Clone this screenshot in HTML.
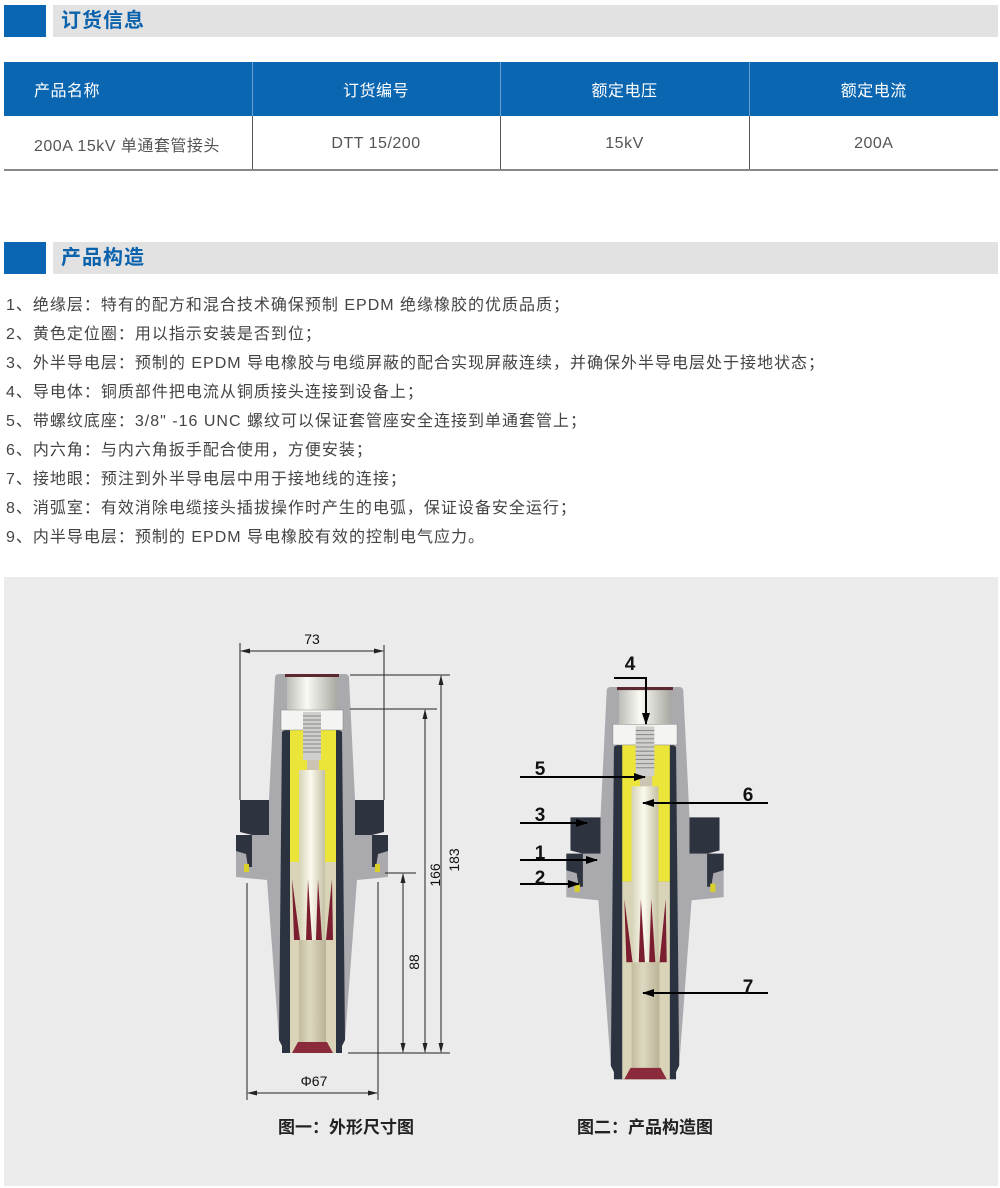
<!DOCTYPE html>
<html><head><meta charset="utf-8"><style>
*{margin:0;padding:0;box-sizing:border-box}
body{width:1000px;height:1188px;background:#fff;position:relative;font-family:"Liberation Sans","Noto Sans CJK SC",sans-serif;overflow:hidden}
.sq{position:absolute;left:4px;width:42px;height:32px;background:#0a66b2}
.bar{position:absolute;left:53px;width:945px;height:32px;background:#e2e2e2;color:#0a62ac;font-size:20px;font-weight:bold;line-height:32px;padding-left:8px;letter-spacing:1px}
table{position:absolute;left:4px;top:62px;width:994px;border-collapse:collapse;table-layout:fixed}
th{background:#0a66b0;color:#fff;font-weight:normal;font-size:16px;height:54px;border-left:1px solid #6a9fd0;letter-spacing:.5px}
td{height:54px;font-size:16px;color:#555;text-align:center;border-left:1px solid #555;border-bottom:2px solid #888;letter-spacing:.5px;padding-top:2px}
th:first-child,td:first-child{border-left:none}
.lines{position:absolute;left:6px;top:291px;font-size:16px;color:#444;line-height:29px;letter-spacing:1px;white-space:nowrap}
.panel{position:absolute;left:4px;top:577px;width:994px;height:609px;background:#ebebeb}
</style></head><body>
<div class="sq" style="top:5px"></div><div class="bar" style="top:5px">订货信息</div>
<table><colgroup><col style="width:248px"><col style="width:248px"><col style="width:249px"><col style="width:249px"></colgroup>
<tr><th style="text-align:left;padding-left:30px">产品名称</th><th>订货编号</th><th>额定电压</th><th>额定电流</th></tr>
<tr><td style="text-align:left;padding-left:30px">200A 15kV 单通套管接头</td><td>DTT 15/200</td><td>15kV</td><td>200A</td></tr></table>
<div class="sq" style="top:242px"></div><div class="bar" style="top:242px">产品构造</div>
<div class="lines">
1、绝缘层：特有的配方和混合技术确保预制 EPDM 绝缘橡胶的优质品质；<br>
2、黄色定位圈：用以指示安装是否到位；<br>
3、外半导电层：预制的 EPDM 导电橡胶与电缆屏蔽的配合实现屏蔽连续，并确保外半导电层处于接地状态；<br>
4、导电体：铜质部件把电流从铜质接头连接到设备上；<br>
5、带螺纹底座：3/8" -16 UNC 螺纹可以保证套管座安全连接到单通套管上；<br>
6、内六角：与内六角扳手配合使用，方便安装；<br>
7、接地眼：预注到外半导电层中用于接地线的连接；<br>
8、消弧室：有效消除电缆接头插拔操作时产生的电弧，保证设备安全运行；<br>
9、内半导电层：预制的 EPDM 导电橡胶有效的控制电气应力。
</div>
<div class="panel"></div>
<svg width="1000" height="1188" style="position:absolute;left:0;top:0">
<defs>
<linearGradient id="cyl" x1="0" x2="1"><stop offset="0" stop-color="#bdbdb8"/><stop offset=".4" stop-color="#fafaf5"/><stop offset="1" stop-color="#a9a9a2"/></linearGradient>
<linearGradient id="rod" x1="0" x2="1"><stop offset="0" stop-color="#d6d2b6"/><stop offset=".45" stop-color="#fbfaee"/><stop offset="1" stop-color="#c4c0a2"/></linearGradient>
<linearGradient id="tube" x1="0" x2="1"><stop offset="0" stop-color="#c2bb9c"/><stop offset=".4" stop-color="#ddd8c0"/><stop offset="1" stop-color="#b9b296"/></linearGradient>
<g id="body">
<path d="M-37,4 Q-37,0 -33,0 L33,0 Q37,0 37,4 L43,126 L43,161 L76,161 L76,203 L45,206 L33,366 L30,372 L30,379 L-30,379 L-30,372 L-33,366 L-45,206 L-76,203 L-76,161 L-43,161 L-43,126 Z" fill="#a9a9ae"/>
<path d="M43,126 L72,126 L72,158 L60,161 L43,161 Z M-43,126 L-72,126 L-72,158 L-60,161 L-43,161 Z" fill="#2e3340"/>
<path d="M60,161 L76,161 L76,177 L66,180 L64,193 L60,193 Z M-60,161 L-76,161 L-76,177 L-66,180 L-64,193 L-60,193 Z" fill="#2e3340"/>
<rect x="63" y="190" width="5" height="8" fill="#d8cf2a"/><rect x="-68" y="190" width="5" height="8" fill="#d8cf2a"/>
<path d="M-30,58 L-22,52 L22,52 L30,58 L33,366 L30,372 L30,379 L-30,379 L-30,372 L-33,366 Z" fill="#2c3340"/>
<rect x="-22" y="56" width="46" height="132" fill="#ebe53a"/>
<rect x="-22" y="188" width="46" height="191" fill="#d9d4b8"/>
<rect x="-25" y="2" width="50" height="36" fill="url(#cyl)"/>
<rect x="-27" y="0" width="54" height="3" fill="#5a2a30"/>
<rect x="-31" y="36" width="62" height="20" fill="#f4f4f2" stroke="#888" stroke-width=".5"/>
<rect x="-9" y="38" width="18" height="48" fill="#cfcfcb"/>
<path d="M-9,42h18M-9,46h18M-9,50h18M-9,54h18M-9,58h18M-9,62h18M-9,66h18M-9,70h18M-9,74h18M-9,78h18" stroke="#888" stroke-width="1"/>
<rect x="-5" y="86" width="12" height="10" fill="#cbc4b2"/>
<rect x="-13" y="96" width="26" height="170" fill="url(#rod)"/>
<path d="M-20,205 L-12,266 L-18,266 Z M-4,205 L0,266 L-6,266 Z M6,205 L4,266 L10,266 Z M20,205 L14,266 L21,266 Z" fill="#7a1e30"/>
<rect x="-13" y="266" width="27" height="103" fill="url(#tube)"/>
<path d="M-20,379 L-14,368 L15,368 L21,379 Z" fill="#8a2a3a"/>
</g>
<marker id="ar" markerUnits="userSpaceOnUse" markerWidth="12" markerHeight="10" refX="11" refY="5" orient="auto"><path d="M0,1 L12,5 L0,9 Z" fill="#000"/></marker>
<marker id="ad" markerUnits="userSpaceOnUse" markerWidth="10" markerHeight="8" refX="9" refY="4" orient="auto-start-reverse"><path d="M0,1.5 L10,4 L0,6.5 Z" fill="#222"/></marker>
</defs>
<use href="#body" transform="translate(312,674)"/>
<use href="#body" transform="translate(645,687) scale(1.035)"/>
<g stroke="#222" stroke-width="1" fill="none">
<line x1="240" y1="643" x2="240" y2="800"/><line x1="384" y1="645" x2="384" y2="800"/>
<line x1="241" y1="651" x2="383" y2="651" marker-start="url(#ad)" marker-end="url(#ad)"/>
<line x1="350" y1="675" x2="450" y2="675"/><line x1="350" y1="709" x2="437" y2="709"/>
<line x1="348" y1="1053" x2="450" y2="1053"/><line x1="385" y1="873" x2="416" y2="873"/>
<line x1="441" y1="676" x2="441" y2="1052" marker-start="url(#ad)" marker-end="url(#ad)"/>
<line x1="425" y1="710" x2="425" y2="1052" marker-start="url(#ad)" marker-end="url(#ad)"/>
<line x1="403" y1="874" x2="403" y2="1052" marker-start="url(#ad)" marker-end="url(#ad)"/>
<line x1="247" y1="883" x2="247" y2="1100"/><line x1="378" y1="882" x2="378" y2="1100"/>
<line x1="248" y1="1093" x2="377" y2="1093" marker-start="url(#ad)" marker-end="url(#ad)"/>
</g>
<g font-family="Liberation Sans, sans-serif" font-size="14" fill="#111" text-anchor="middle">
<text x="312" y="644">73</text>
<text x="314" y="1086">Φ67</text>
<text transform="translate(459,860) rotate(-90)">183</text>
<text transform="translate(440,875) rotate(-90)">166</text>
<text transform="translate(419,962) rotate(-90)">88</text>
</g>
<g stroke="#000" stroke-width="2" fill="none">
<polyline points="614,678 646,678 646,724" marker-end="url(#ar)"/>
<line x1="520" y1="777" x2="645" y2="777" marker-end="url(#ar)"/>
<line x1="768" y1="803" x2="643" y2="803" marker-end="url(#ar)"/>
<line x1="520" y1="823" x2="587" y2="823" marker-end="url(#ar)"/>
<line x1="520" y1="860" x2="597" y2="860" marker-end="url(#ar)"/>
<line x1="520" y1="884" x2="579" y2="884" marker-end="url(#ar)"/>
<line x1="768" y1="993" x2="643" y2="993" marker-end="url(#ar)"/>
</g>
<g font-family="Liberation Sans, sans-serif" font-size="19" font-weight="bold" fill="#111" text-anchor="middle">
<text x="630" y="670">4</text><text x="540" y="775">5</text><text x="748" y="801">6</text>
<text x="540" y="821">3</text><text x="540" y="859">1</text><text x="540" y="884">2</text><text x="748" y="993">7</text>
</g>
<g font-family="Liberation Sans, Noto Sans CJK SC, sans-serif" font-size="17" font-weight="bold" fill="#222" text-anchor="middle">
<text x="346" y="1133">图一：外形尺寸图</text><text x="645" y="1133">图二：产品构造图</text>
</g>
</svg>
</body></html>
